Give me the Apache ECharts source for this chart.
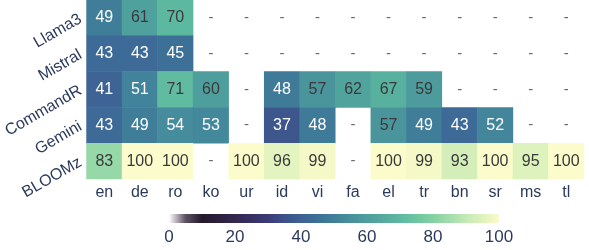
<!DOCTYPE html>
<html><head><meta charset="utf-8">
<script src="https://cdn.jsdelivr.net/npm/echarts@6/dist/echarts.min.js"></script>
<style>html,body{margin:0;padding:0;background:#fff}#c{width:589px;height:250px}</style>
</head><body><div id="c"></div>
<script>
const languages = ['en','de','ro','ko','ur','id','vi','fa','el','tr','bn','sr','ms','tl'];
const models = ['Llama3','Mistral','CommandR','Gemini','BLOOMz'];
const llama3   = [49,61,70,null,null,null,null,null,null,null,null,null,null,null];
const mistral  = [43,43,45,null,null,null,null,null,null,null,null,null,null,null];
const commandR = [41,51,71,60,null,48,57,62,67,59,null,null,null,null];
const gemini   = [43,49,54,53,null,37,48,null,57,49,43,52,null,null];
const bloomz   = [83,100,100,null,100,96,99,null,100,99,93,100,95,100];
const colorbarTicks = [0,20,40,60,80,100];
const palette = ['#ffffff','#5d5264','#241a2d','#2b1f3d','#32274f','#373062','#3b3c78','#3d5089','#3e6194','#3d7097','#40809a','#478f9c','#4e9e9d','#55ab9e','#5db8a0','#6dc6a1','#84d1a3','#a2ddab','#c4e9b5','#def2bd','#fbfbcb'];

const rows = [llama3, mistral, commandR, gemini, bloomz];
const cells = [], missing = [];
rows.forEach((r, yi) => r.forEach((v, xi) => {
  if (v === null) missing.push([xi, yi]);
  else cells.push({value: [xi, yi, v], label: {color: v < 55 ? '#ffffff' : '#3a3a3a'}});
}));
const navy = '#2b3a5c';
const font = 'Liberation Sans';
const chart = echarts.init(document.getElementById('c'));
chart.setOption({
  animation: false,
  textStyle: {fontFamily: font},
  grid: [
    {left: 83, right: 5, top: 0, height: 179},
    {left: 169, width: 330, top: 214, height: 9}
  ],
  xAxis: [
    {type: 'category', data: languages, gridIndex: 0, axisLine: {show: false}, axisTick: {show: false},
     axisLabel: {color: navy, fontSize: 16, fontFamily: font, margin: 6}, splitLine: {show: false}},
    {type: 'value', gridIndex: 1, min: 0, max: 100, interval: 20, axisLine: {show: false}, axisTick: {show: false},
     splitLine: {show: false}, axisLabel: {color: navy, fontSize: 17, fontFamily: font, margin: 6,
     customValues: colorbarTicks}}
  ],
  yAxis: [
    {type: 'category', data: models, inverse: true, gridIndex: 0, axisLine: {show: false}, axisTick: {show: false},
     axisLabel: {color: navy, fontSize: 16, fontFamily: font, rotate: 30, margin: 6}, splitLine: {show: false}},
    {type: 'value', gridIndex: 1, show: false}
  ],
  visualMap: {
    type: 'continuous', min: 0, max: 100, seriesIndex: 0, orient: 'horizontal',
    left: 169, top: 214, itemWidth: 9, itemHeight: 330, calculable: false, showLabel: false,
    text: null, padding: 0, realtime: false, hoverLink: false,
    inRange: {color: palette}
  },
  series: [
    {type: 'heatmap', xAxisIndex: 0, yAxisIndex: 0, data: cells,
     label: {show: true, fontSize: 16, fontFamily: font, formatter: p => p.value[2]},
     emphasis: {disabled: true}},
    {type: 'scatter', xAxisIndex: 0, yAxisIndex: 0, data: missing, symbolSize: 0,
     label: {show: true, position: 'inside', formatter: '-', color: '#444', fontSize: 15, fontFamily: font},
     silent: true}
  ]
});
</script></body></html>
